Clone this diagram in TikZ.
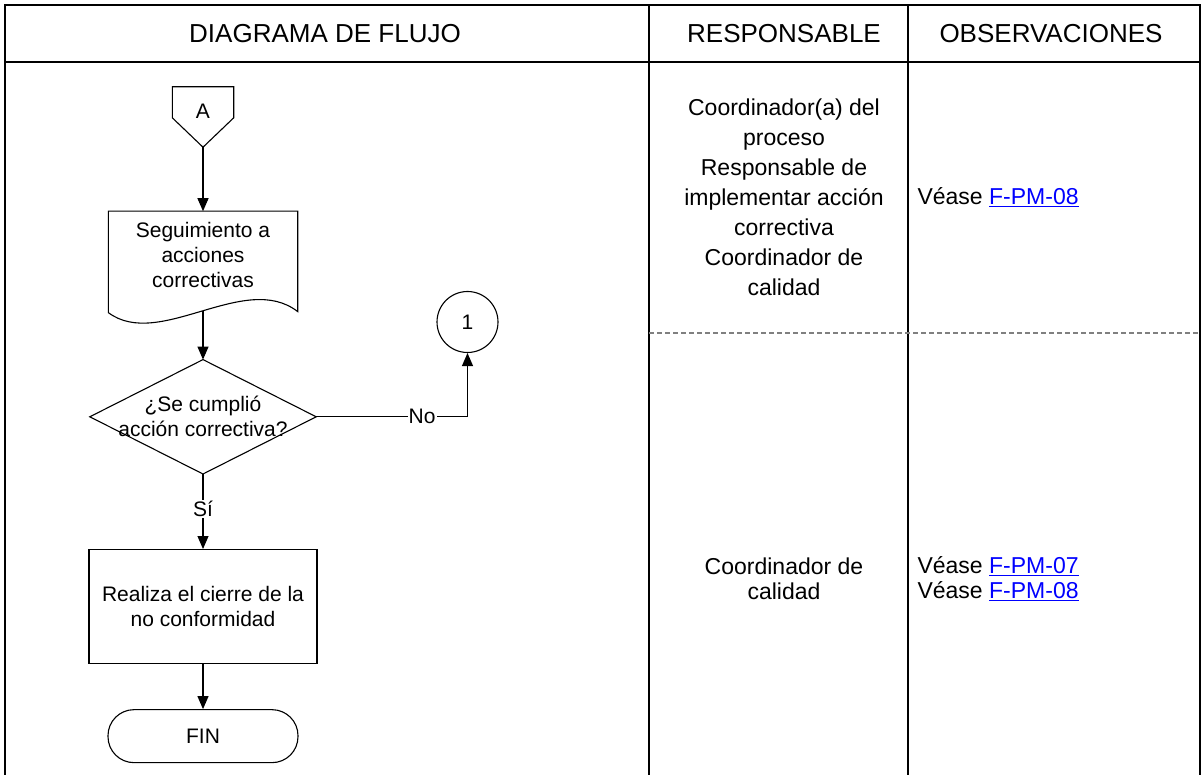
\documentclass[tikz,border=0pt]{standalone}
\usepackage{fontspec}
\setmainfont{Liberation Sans}
\usepackage{tikz}
\usetikzlibrary{arrows.meta,positioning,calc}
\definecolor{Ink}{HTML}{000000}
\definecolor{Rule}{HTML}{000000}
\definecolor{Dash}{HTML}{808080}
\definecolor{LinkBlue}{HTML}{0000FF}
\tikzset{
  tablerule/.style={line width=2.4pt,draw=Rule},
  sepline/.style={dash pattern=on 5pt off 3pt,line width=1.2pt,draw=Dash},
  head/.style={font=\fontsize{26}{31}\selectfont,text=Ink},
  cell/.style={font=\fontsize{23}{30}\selectfont,align=center,text=Ink},
  celltight/.style={cell,font=\fontsize{23}{25}\selectfont},
  obs/.style={font=\fontsize{23}{25}\selectfont,align=left,anchor=west,text=Ink},
  flowtext/.style={font=\fontsize{21}{25}\selectfont,align=center,inner sep=0pt,text=Ink},
  shapeline/.style={draw=Ink,line width=1.1pt},
  process/.style={flowtext,rectangle,shapeline,minimum width=228pt,minimum height=114pt},
  terminal/.style={flowtext,rectangle,shapeline,rounded corners=26pt,minimum width=190pt,minimum height=53pt},
  connector/.style={flowtext,circle,shapeline,minimum size=61pt},
  docbox/.style={flowtext,minimum width=189pt,minimum height=88pt},
  offpage/.style={flowtext,minimum width=61pt,minimum height=48pt},
  decision/.style={flowtext,minimum width=226pt,minimum height=114pt},
  arrow/.style={-{Triangle[length=13pt,width=11pt]},line width=1.1pt,draw=Ink},
  lbl/.style={font=\fontsize{21}{25}\selectfont,fill=white,inner sep=1pt,text=Ink}
}
\newcommand{\fmlink}[1]{\textcolor{LinkBlue}{\underline{#1}}}

\begin{document}
\begin{tikzpicture}[x=1pt,y=-1pt]
\useasboundingbox (0,0) rectangle (1202,775);
\draw[tablerule] (5,775) -- (5,5) -- (1200,5) -- (1200,775);
\draw[tablerule] (5,62) -- (1200,62);
\draw[tablerule] (649,5) -- (649,775);\draw[tablerule] (908,5) -- (908,775);
\draw[sepline] (649,333) -- (1200,333);
\node[head] (hflow) at (325,34) {DIAGRAMA DE FLUJO};
\node[head] (hresp) at (784,34) {RESPONSABLE};
\node[head] (hobs) at (1051,34) {OBSERVACIONES};
\node[cell] (resp1) at (784,197.5) {Coordinador(a) del\\proceso\\Responsable de\\implementar acción\\correctiva\\Coordinador de\\calidad};
\node[celltight] (resp2) at (784,579) {Coordinador de\\calidad};
\node[obs] (obs1) at (914,197) {Véase \fmlink{F-PM-08}};
\node[obs] (obs2) at (914,579) {Véase \fmlink{F-PM-07}\\Véase \fmlink{F-PM-08}};
\node[offpage] (A) at (203,111) {A};
\draw[shapeline] (A.north west) -- (A.north east) -- ($(A.north east)+(0,31)$) -- ($(A.south)+(0,12)$) -- ($(A.north west)+(0,31)$) -- cycle;
\coordinate (Atip) at ($(A.south)+(0,12)$);
\node[docbox,below=76pt of A] (seg) {Seguimiento a\\acciones\\correctivas};
\draw[shapeline] (seg.north west) -- (seg.north east) -- ($(seg.south east)+(0,12)$) .. controls ($(seg.south east)+(-53,-29)$) and ($(seg.south west)+(51,51)$) .. ($(seg.south west)+(0,13)$) -- cycle;
\coordinate (segb) at ($(seg.south)+(0,11)$);
\node[decision,below=60pt of seg] (q) {¿Se cumplió\\acción correctiva?};
\draw[shapeline] (q.north) -- (q.east) -- (q.south) -- (q.west) -- cycle;
\node[connector] (c1) at (467.5,322) {1};
\node[process,below=75pt of q] (r) {Realiza el cierre de la\\no conformidad};
\node[terminal,below=45pt of r] (fin) {FIN};
\draw[arrow] (Atip)--(seg);\draw[arrow] (segb)--(q);\draw[arrow] (r)--(fin);
\draw[arrow] (q.east) -| node[lbl,pos=0.35] {No} (c1.south);
\draw[arrow] (q.south) -- node[lbl,pos=0.47] {Sí} (r.north);
\end{tikzpicture}
\end{document}
